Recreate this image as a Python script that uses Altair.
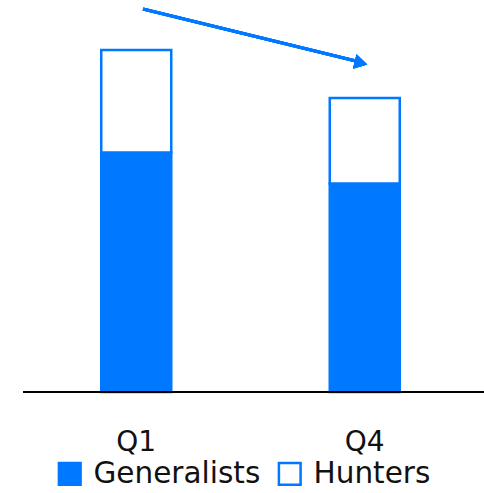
import altair as alt
import pandas as pd

# Quarterly headcount split, stacked per quarter
quarters = ["Q1", "Q4"]
generalists = [70, 61]
hunters = [30, 25]
series = ["Generalists", "Hunters"]

BLUE = "#0078FF"
FONT = "DejaVu Sans"

rows = []
for q, g, h in zip(quarters, generalists, hunters):
    rows.append({"quarter": q, "group": "Generalists", "value": g, "order": 0})
    rows.append({"quarter": q, "group": "Hunters", "value": h, "order": 1})
df = pd.DataFrame(rows)

bars = alt.Chart(df).mark_bar(size=70, stroke=BLUE, strokeWidth=2.5).encode(
    x=alt.X(
        "quarter:N",
        sort=quarters,
        title=None,
        scale=alt.Scale(paddingInner=0, paddingOuter=0),
        axis=alt.Axis(
            labelAngle=0,
            labelFontSize=28,
            labelFont=FONT,
            labelColor="#111111",
            labelPadding=36,
            ticks=False,
            domain=False,
        ),
    ),
    y=alt.Y(
        "value:Q",
        stack="zero",
        scale=alt.Scale(domain=[0, 100], nice=False),
        axis=None,
    ),
    fill=alt.Fill(
        "group:N",
        scale=alt.Scale(domain=series, range=[BLUE, "white"]),
        legend=alt.Legend(
            title=None,
            orient="none",
            direction="horizontal",
            legendX=33,
            legendY=409,
            symbolType="square",
            symbolSize=470,
            symbolStrokeColor=BLUE,
            symbolStrokeWidth=2.5,
            labelFontSize=29.5,
            labelFont=FONT,
            labelColor="#111111",
            labelOffset=9,
            columnPadding=12,
            labelLimit=400,
        ),
    ),
    order=alt.Order("order:Q"),
)

# Baseline under the bars, running to the right edge
baseline = alt.Chart(df).mark_rule(color="black", strokeWidth=2, clip=False).encode(
    x=alt.value(1), x2=alt.value(462), y=alt.value(342)
)

# Downward trend arrow between the quarters
arrow_line = alt.Chart(df).mark_rule(color=BLUE, strokeWidth=3, clip=False).encode(
    x=alt.value(121), x2=alt.value(338), y=alt.value(-41), y2=alt.value(12)
)
arrow_head = alt.Chart(df).mark_point(
    shape="triangle-right", filled=True, color=BLUE, size=220, angle=14, opacity=1, clip=False
).encode(x=alt.value(339), y=alt.value(13))

chart = (
    alt.layer(bars, baseline, arrow_line, arrow_head)
    .properties(
        width=457,
        height=342,
        background="white",
        padding={"left": 22, "top": 50, "right": 5, "bottom": 101},
        autosize=alt.AutoSizeParams(type="none"),
    )
    .configure_view(strokeWidth=0, stroke=None)
)

chart.save("out.html", embed_options={"renderer": "svg", "actions": False})
